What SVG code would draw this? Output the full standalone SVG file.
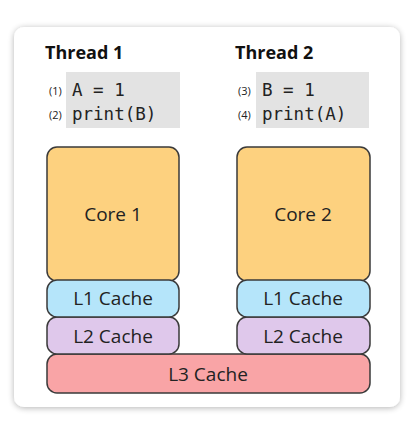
<svg xmlns="http://www.w3.org/2000/svg" width="411" height="422" viewBox="0 0 411 422">
<defs>
<filter id="sh" x="-10%" y="-10%" width="120%" height="120%">
<feGaussianBlur in="SourceAlpha" stdDeviation="3"/>
<feOffset dy="1"/>
<feComponentTransfer><feFuncA type="linear" slope="0.3"/></feComponentTransfer>
<feMerge><feMergeNode/><feMergeNode in="SourceGraphic"/></feMerge>
</filter>
</defs>
<style>
.title{font-family:"Open Sans","Noto Sans",sans-serif;font-weight:bold;font-size:18px;fill:#111}
.num{font-family:"Open Sans","Noto Sans",sans-serif;font-size:11px;fill:#222}
.code{font-family:"DejaVu Sans Mono","Liberation Mono",monospace;font-size:17.5px;fill:#222}
.lbl{font-family:"Open Sans","Noto Sans",sans-serif;font-size:19px;fill:#222;text-anchor:middle;dominant-baseline:central}
.box{stroke:#3a3a3a;stroke-width:1.5}
.core{fill:#FDD17F}
.l1{fill:#B5E5FA}
.l2{fill:#DFC8EB}
.l3{fill:#F9A4A6}
.codebg{fill:#E3E3E3}
</style>
<rect width="411" height="422" fill="#fff"/>
<rect x="14" y="27" width="386" height="380" rx="10" fill="#fff" filter="url(#sh)"/>
<g id="thread1">
<text class="title" x="45" y="59">Thread 1</text>
<rect class="codebg" x="66" y="72" width="114" height="56"/>
<text class="num" x="49" y="95">(1)</text>
<text class="num" x="49" y="119">(2)</text>
<text class="code" x="72" y="96">A = 1</text>
<text class="code" x="72" y="120">print(B)</text>
</g>
<g id="thread2">
<text class="title" x="235" y="59">Thread 2</text>
<rect class="codebg" x="256" y="72" width="113" height="56"/>
<text class="num" x="238" y="95">(3)</text>
<text class="num" x="238" y="119">(4)</text>
<text class="code" x="262" y="96">B = 1</text>
<text class="code" x="262" y="120">print(A)</text>
</g>
<g id="connectors"></g>
<g id="core1">
<rect class="box core" x="47" y="147" width="132" height="134" rx="10"/>
<text class="lbl" x="113" y="214">Core 1</text>
</g>
<g id="core2">
<rect class="box core" x="237" y="147" width="133" height="134" rx="10"/>
<text class="lbl" x="303" y="214">Core 2</text>
</g>
<g id="l3">
<rect class="box l3" x="47" y="354" width="323" height="39" rx="10"/>
<text class="lbl" x="208" y="374">L3 Cache</text>
</g>
<g id="l2-1">
<rect class="box l2" x="47" y="317" width="132" height="37" rx="10"/>
<text class="lbl" x="113" y="336">L2 Cache</text>
</g>
<g id="l2-2">
<rect class="box l2" x="237" y="317" width="133" height="37" rx="10"/>
<text class="lbl" x="303" y="336">L2 Cache</text>
</g>
<g id="l1-1">
<rect class="box l1" x="47" y="280" width="132" height="37" rx="10"/>
<text class="lbl" x="113" y="298">L1 Cache</text>
</g>
<g id="l1-2">
<rect class="box l1" x="237" y="280" width="133" height="37" rx="10"/>
<text class="lbl" x="303" y="298">L1 Cache</text>
</g>
</svg>
